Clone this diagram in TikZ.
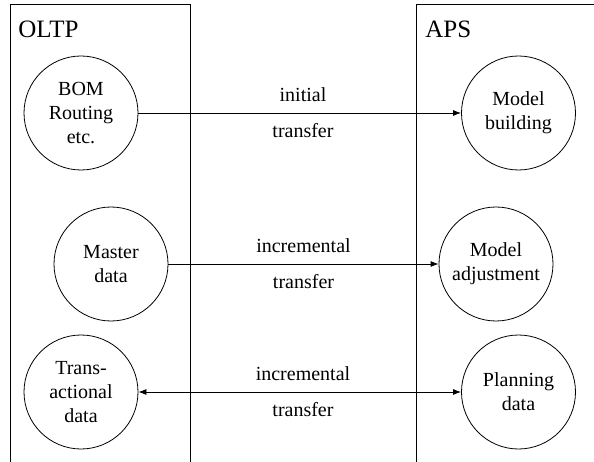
\documentclass[tikz,border=0pt]{standalone}
\usepackage{fontspec}
\setmainfont{Liberation Serif}
\usetikzlibrary{arrows.meta}
\begin{document}
\begin{tikzpicture}[x=1pt,y=-1pt,line width=0.8pt,
  proc/.style={draw,circle,minimum size=114pt,inner sep=0pt,align=center,
    font=\fontsize{20}{24}\selectfont},
  hdr/.style={anchor=base west,inner sep=0pt,font=\fontsize{25}{30}\selectfont},
  lbl/.style={inner sep=0pt,font=\fontsize{20}{24}\selectfont},
  arr/.style={-{Latex[length=8pt,width=6pt]}},
  barr/.style={{Latex[length=8pt,width=6pt]}-{Latex[length=8pt,width=6pt]}}]
\useasboundingbox (0,0) rectangle (594,462);
% swimlanes
\draw (10,462) -- (10,4) -- (190,4) -- (190,462);
\draw (416,462) -- (416,4) -- (594,4);
\node[hdr] (oltp) at (18,38) {OLTP};
\node[hdr] (aps) at (425,38) {APS};
% processes
\node[proc] (bom) at (81,113) {BOM\\Routing\\etc.};
\node[proc] (mb) at (518.5,113) {Model\\building};
\node[proc] (md) at (111,264) {Master\\data};
\node[proc] (ma) at (496,264) {Model\\adjustment};
\node[proc] (td) at (81,392) {Trans-\\actional\\data};
\node[proc] (pd) at (518.5,392) {Planning\\data};
% connectors
\draw[arr] (bom) -- node[lbl,pos=0.51,yshift=18pt] (l1a) {initial}
  node[lbl,pos=0.51,yshift=-18pt] (l1b) {transfer} (mb);
\draw[arr] (md) -- node[lbl,pos=0.5,yshift=18pt] (l2a) {incremental}
  node[lbl,pos=0.5,yshift=-18pt] (l2b) {transfer} (ma);
\draw[barr] (td) -- node[lbl,pos=0.51,yshift=18pt] (l3a) {incremental}
  node[lbl,pos=0.51,yshift=-18pt] (l3b) {transfer} (pd);
\end{tikzpicture}
\end{document}
